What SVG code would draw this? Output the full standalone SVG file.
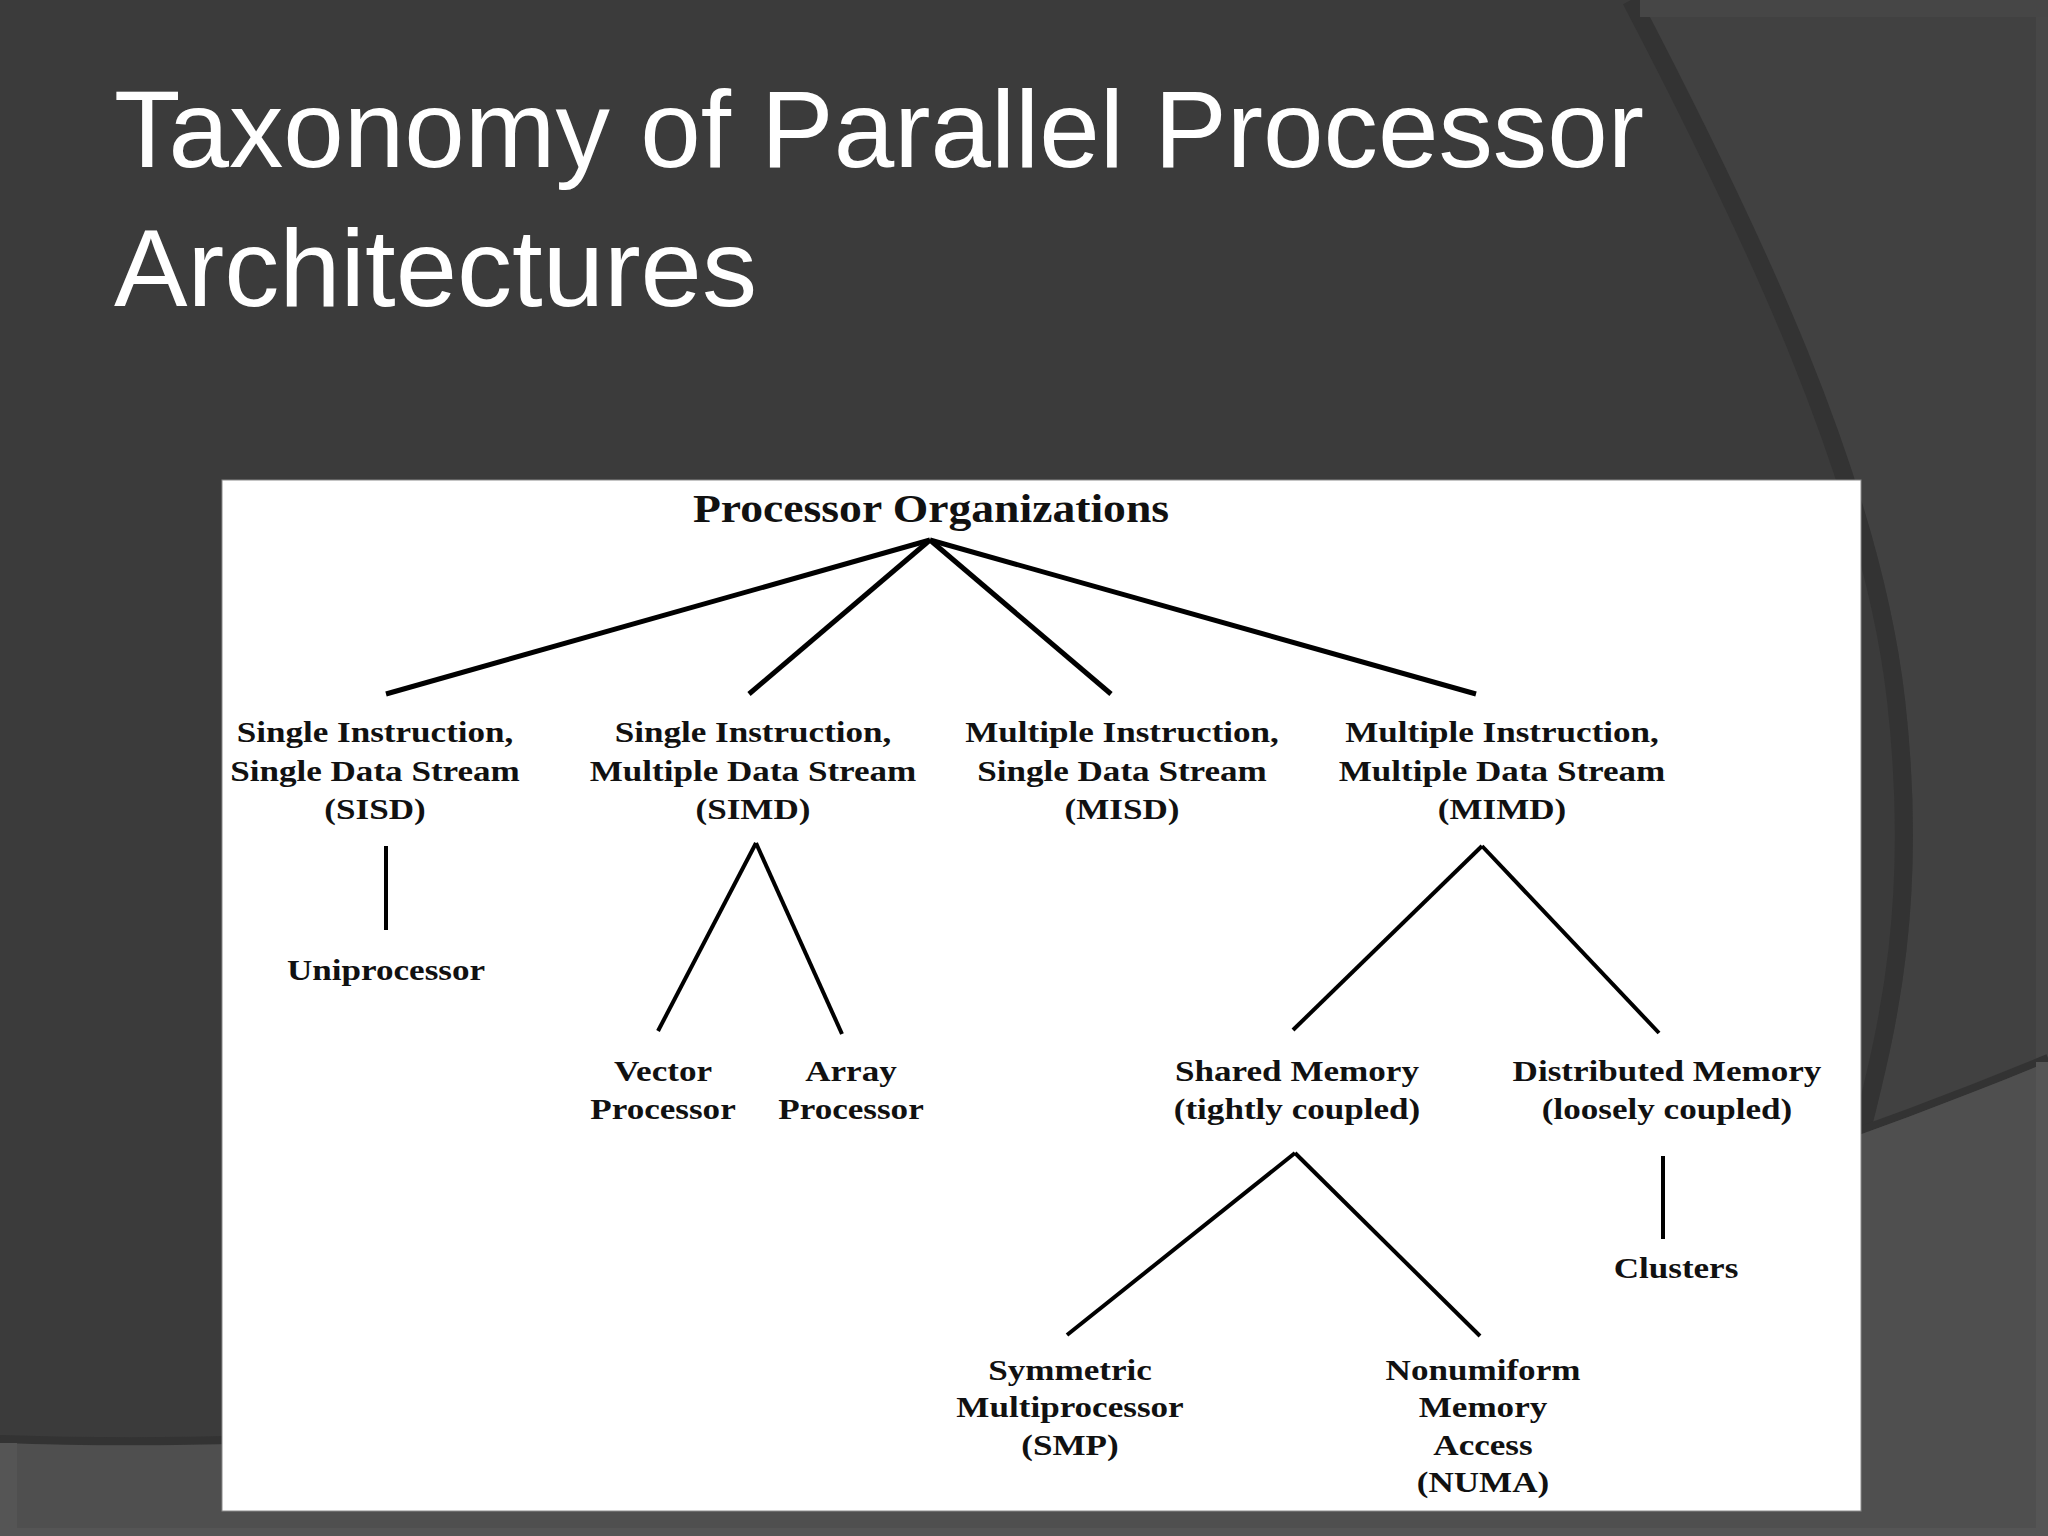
<svg xmlns="http://www.w3.org/2000/svg" width="2048" height="1536" viewBox="0 0 2048 1536">
<style>
.title{font-family:"Liberation Sans",Arial,sans-serif;font-size:110px;fill:#ffffff}
.t{font-family:"Liberation Serif","Times New Roman",serif;font-weight:bold;font-size:30px;fill:#111111;text-anchor:middle}
.root{font-size:39px}
#connectors line{stroke:#000000;stroke-width:4;stroke-linecap:butt}
#connectors .top{stroke-width:5}
</style>
<g id="background">
<rect x="0" y="0" width="2048" height="1536" fill="#3b3b3b"/>
<path d="M1640,0 C1760,230 1880,480 1905,700 S1890,1050 1867,1146 L2048,1146 L2048,0 Z" fill="#414141"/>
<path d="M1640,0 C1760,230 1880,480 1905,700 S1890,1050 1867,1146" fill="none" stroke="#333333" stroke-width="18" transform="translate(-9,0)"/>
<rect x="1640" y="0" width="408" height="17" fill="#464646"/>
<rect x="2036" y="17" width="12" height="1519" fill="#474747"/>
<path d="M0,1443 C600,1465 1400,1330 2048,1062" fill="none" stroke="#333333" stroke-width="8" transform="translate(0,-4)"/>
<path d="M0,1443 C600,1465 1400,1330 2048,1062 L2048,1536 L0,1536 Z" fill="#4f4f4f"/>
<rect x="0" y="1443" width="17" height="93" fill="#555555"/>
<rect x="0" y="1528" width="2048" height="8" fill="#555555"/>
<rect x="2036" y="1062" width="12" height="474" fill="#555555"/>
</g>
<g id="slide-title">
<text class="title" x="114" y="167" textLength="1530" lengthAdjust="spacingAndGlyphs">Taxonomy of Parallel Processor</text>
<text class="title" x="114" y="306" textLength="643" lengthAdjust="spacingAndGlyphs">Architectures</text>
</g>
<rect id="panel" x="222" y="480" width="1639" height="1031" fill="#ffffff" stroke="#8a8a8a" stroke-width="1"/>
<g id="connectors">
<line class="top" x1="930" y1="540" x2="386" y2="694"/>
<line class="top" x1="930" y1="540" x2="749" y2="694"/>
<line class="top" x1="930" y1="540" x2="1111" y2="694"/>
<line class="top" x1="930" y1="540" x2="1476" y2="694"/>
<line x1="386" y1="846" x2="386" y2="930"/>
<line x1="756" y1="843" x2="658" y2="1031"/>
<line x1="756" y1="843" x2="842" y2="1034"/>
<line x1="1482" y1="846" x2="1293" y2="1030"/>
<line x1="1482" y1="846" x2="1659" y2="1033"/>
<line x1="1663" y1="1156" x2="1663" y2="1239"/>
<line x1="1295" y1="1153" x2="1067" y2="1335"/>
<line x1="1295" y1="1153" x2="1480" y2="1336"/>
</g>
<g id="processor-organizations" transform="translate(931,0) scale(1.17,1)">
<text class="t root" x="0" y="522">Processor Organizations</text>
</g>
<g id="sisd" transform="translate(375,0) scale(1.17,1)">
<text class="t" x="0" y="742">Single Instruction,</text>
<text class="t" x="0" y="781">Single Data Stream</text>
<text class="t" x="0" y="819">(SISD)</text>
</g>
<g id="simd" transform="translate(753,0) scale(1.17,1)">
<text class="t" x="0" y="742">Single Instruction,</text>
<text class="t" x="0" y="781">Multiple Data Stream</text>
<text class="t" x="0" y="819">(SIMD)</text>
</g>
<g id="misd" transform="translate(1122,0) scale(1.17,1)">
<text class="t" x="0" y="742">Multiple Instruction,</text>
<text class="t" x="0" y="781">Single Data Stream</text>
<text class="t" x="0" y="819">(MISD)</text>
</g>
<g id="mimd" transform="translate(1502,0) scale(1.17,1)">
<text class="t" x="0" y="742">Multiple Instruction,</text>
<text class="t" x="0" y="781">Multiple Data Stream</text>
<text class="t" x="0" y="819">(MIMD)</text>
</g>
<g id="uniprocessor" transform="translate(386,0) scale(1.17,1)">
<text class="t" x="0" y="980">Uniprocessor</text>
</g>
<g id="vector-processor" transform="translate(663,0) scale(1.17,1)">
<text class="t" x="0" y="1081">Vector</text>
<text class="t" x="0" y="1119">Processor</text>
</g>
<g id="array-processor" transform="translate(851,0) scale(1.17,1)">
<text class="t" x="0" y="1081">Array</text>
<text class="t" x="0" y="1119">Processor</text>
</g>
<g id="shared-memory" transform="translate(1297,0) scale(1.17,1)">
<text class="t" x="0" y="1081">Shared Memory</text>
<text class="t" x="0" y="1119">(tightly coupled)</text>
</g>
<g id="distributed-memory" transform="translate(1667,0) scale(1.17,1)">
<text class="t" x="0" y="1081">Distributed Memory</text>
<text class="t" x="0" y="1119">(loosely coupled)</text>
</g>
<g id="clusters" transform="translate(1676,0) scale(1.17,1)">
<text class="t" x="0" y="1278">Clusters</text>
</g>
<g id="smp" transform="translate(1070,0) scale(1.17,1)">
<text class="t" x="0" y="1380">Symmetric</text>
<text class="t" x="0" y="1417">Multiprocessor</text>
<text class="t" x="0" y="1455">(SMP)</text>
</g>
<g id="numa" transform="translate(1483,0) scale(1.17,1)">
<text class="t" x="0" y="1380">Nonumiform</text>
<text class="t" x="0" y="1417">Memory</text>
<text class="t" x="0" y="1455">Access</text>
<text class="t" x="0" y="1492">(NUMA)</text>
</g>
</svg>
